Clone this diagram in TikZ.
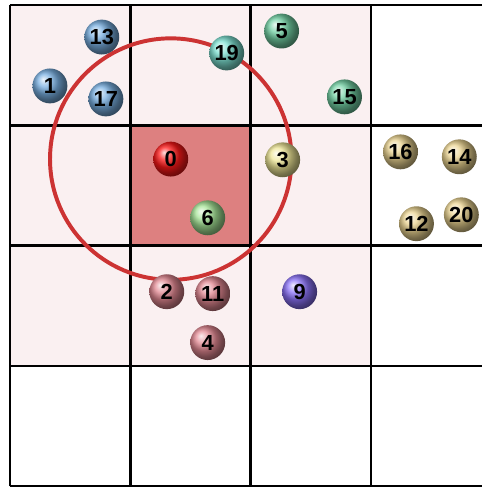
\documentclass[tikz,border=0pt]{standalone}
\usepackage{fontspec}
\setsansfont{Liberation Sans}
\usepackage{xcolor}
\usepackage{tikz}
\usetikzlibrary{shadings}
\definecolor{cellpink}{RGB}{250,240,241}
\definecolor{homered}{RGB}{221,128,128}
\definecolor{cutred}{RGB}{204,51,51}
\definecolor{pblue}{RGB}{120,175,225}
\definecolor{pteal}{RGB}{125,225,210}
\definecolor{pgreen}{RGB}{115,210,165}
\definecolor{plime}{RGB}{165,228,150}
\definecolor{pred}{RGB}{255,25,25}
\definecolor{polive}{RGB}{238,230,150}
\definecolor{ptan}{RGB}{235,212,145}
\definecolor{pmauve}{RGB}{225,135,145}
\definecolor{ppurple}{RGB}{140,115,250}
\tikzset{
  ptcl/.style     = {circle, shading=ball, ball color=#1, minimum size=8.7mm,
                     inner sep=0pt, text=black,
                     font=\sffamily\bfseries\fontsize{15.5}{16}\selectfont},
  cellbox/.style  = {fill=cellpink},
  homecell/.style = {fill=homered},
  gridln/.style   = {line width=2pt, black},
  cutoff/.style   = {line width=2.8pt, cutred},
}

\begin{document}
\begin{tikzpicture}[x=3cm, y=3cm]
  \useasboundingbox (-0.083,-0.005) rectangle (3.925,4.042);
  \fill[cellbox] (0,1) rectangle (3,4);
  \fill[homecell] (1,2) rectangle (2,3);
  \draw[gridln, step=3cm] (0,0) grid (3.925,4);
  \coordinate (c0) at (1.336,2.72);
  \draw[cutoff] (c0) circle [radius=3.01cm];
  % home cell
  \node[ptcl=pred]    (b0)  at (c0)          {0};
  \node[ptcl=plime]   (b6)  at (1.643,2.232) {6};
  % top row
  \node[ptcl=pblue]   (b13) at (0.763,3.734) {13};
  \node[ptcl=pblue]   (b1)  at (0.332,3.328) {1};
  \node[ptcl=pblue]   (b17) at (0.797,3.220) {17};
  \node[ptcl=pteal]   (b19) at (1.801,3.602) {19};
  \node[ptcl=pgreen]  (b5)  at (2.257,3.784) {5};
  \node[ptcl=pgreen]  (b15) at (2.780,3.237) {15};
  % middle row
  \node[ptcl=polive]  (b3)  at (2.266,2.714) {3};
  \node[ptcl=ptan]    (b16) at (3.245,2.780) {16};
  \node[ptcl=ptan]    (b14) at (3.734,2.739) {14};
  \node[ptcl=ptan]    (b12) at (3.378,2.183) {12};
  \node[ptcl=ptan]    (b20) at (3.751,2.257) {20};
  % bottom row
  \node[ptcl=pmauve]  (b2)  at (1.303,1.618) {2};
  \node[ptcl=pmauve]  (b11) at (1.685,1.602) {11};
  \node[ptcl=pmauve]  (b4)  at (1.643,1.195) {4};
  \node[ptcl=ppurple] (b9)  at (2.407,1.618) {9};
\end{tikzpicture}
\end{document}
